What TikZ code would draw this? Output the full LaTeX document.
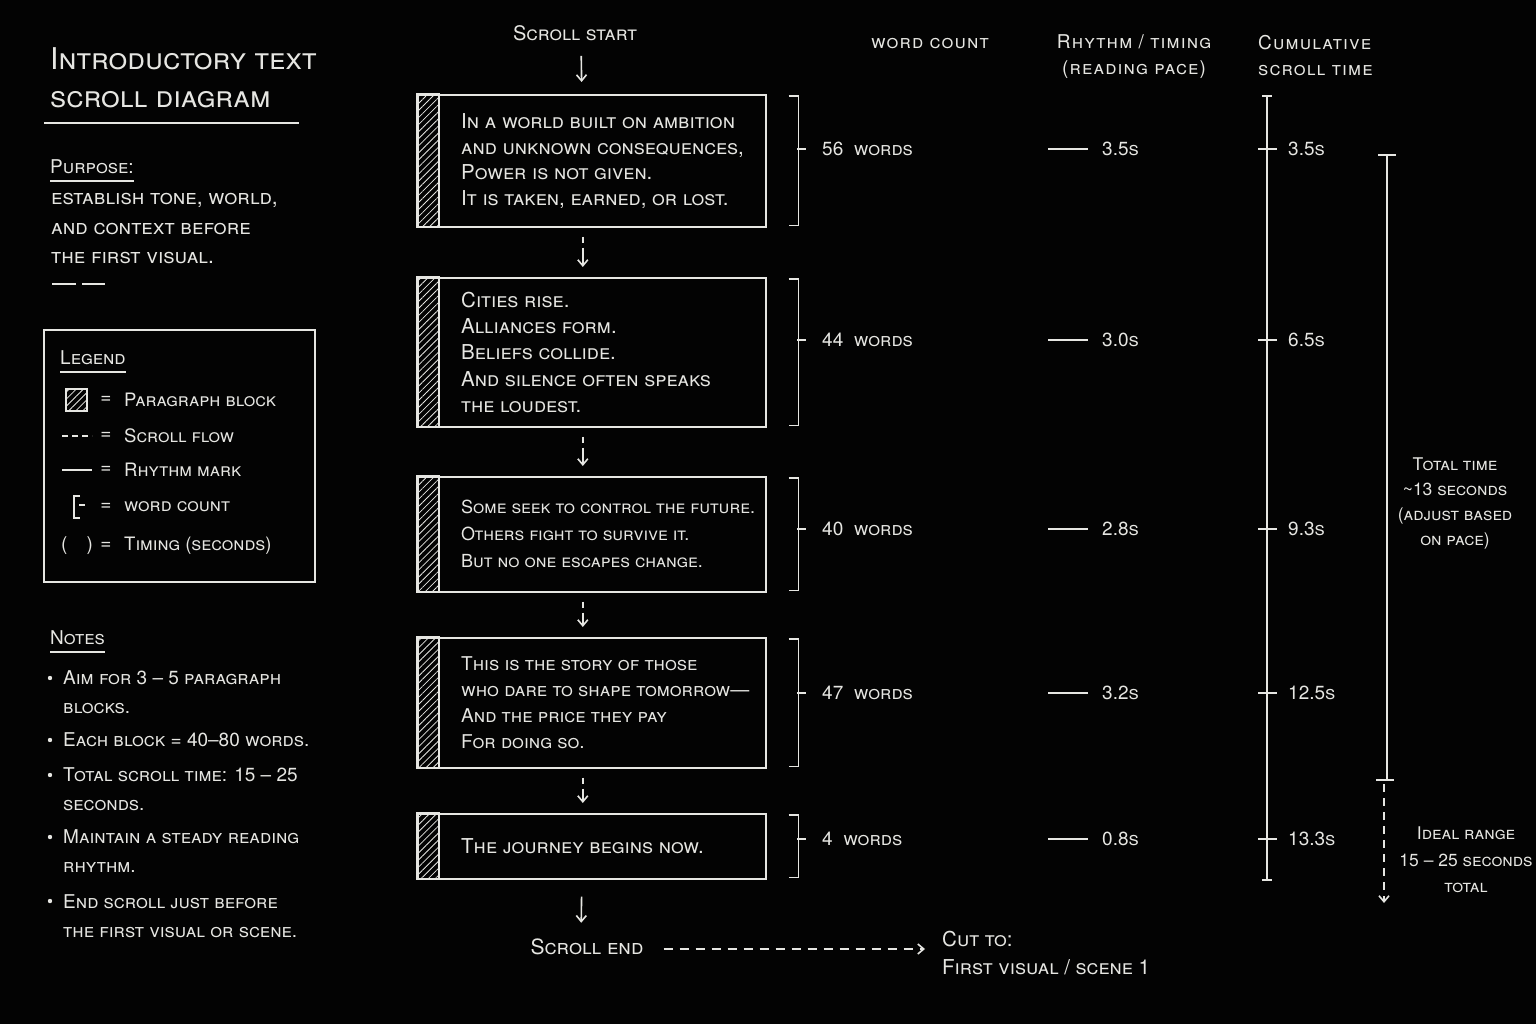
\documentclass[tikz,border=0pt]{standalone}
\usepackage{fontspec}
\setmainfont{TeX Gyre Heros}
\usetikzlibrary{arrows.meta,positioning,patterns.meta}
\definecolor{chalk}{HTML}{E6E6E2}
\definecolor{board}{HTML}{030303}

\begin{document}
\begin{tikzpicture}[
        x=1pt, y=-1pt,
        every node/.style={text=chalk, inner sep=0pt, font=\fontsize{19}{25.5}\selectfont\scshape},
        chalk line/.style={draw=chalk, line width=1.6pt},
        flow arrow/.style={chalk line, -{Straight Barb[length=6pt,width=10pt]}},
        flow dash/.style={flow arrow, dash pattern=on 6pt off 5pt on 60pt off 5pt},
        scroll link/.style={flow arrow, dash pattern=on 9pt off 7pt},
        block/.style={draw=chalk, line width=1.6pt, minimum width=348pt, anchor=north west},
        hatch/.style={chalk line, pattern={Lines[angle=45,distance=5pt,line width=0.8pt]}, pattern color=chalk},
        para/.style={align=left, anchor=west},
        loose/.style={font=\fontsize{21}{29.5}\selectfont\scshape},
        title/.style={font=\fontsize{30}{38}\selectfont\scshape, align=left, anchor=west},
        head/.style={font=\fontsize{19}{26}\selectfont\addfontfeatures{LetterSpace=6}\scshape}
    ]
        \fill[board] (0,0) rectangle (1536,1024);
        \useasboundingbox (0,0) rectangle (1536,1024);

        % left column: title, purpose
        \node[title] (title) at (50,78) {Introductory text\\scroll diagram};
        \draw[chalk line] (44,123) -- (299,123);
        \node[para] (purpose) at (50,167) {Purpose:};
        \draw[chalk line] ([yshift=-7pt]purpose.south west) -- ([yshift=-7pt]purpose.south east);
        \node[para, loose] (aim) at (51,229) {establish tone, world,\\and context before\\the first visual.};
        \draw[chalk line] (52,284) -- (76,284);
        \draw[chalk line] (82,284) -- (105,284);

        % legend
        \node[draw=chalk, line width=1.6pt, minimum width=271pt, minimum height=252pt, anchor=north west] (legend) at (43,329) {};
        \node[para] (lgtitle) at (60,358) {Legend};
        \draw[chalk line] ([yshift=-7pt]lgtitle.south west) -- ([yshift=-7pt]lgtitle.south east);
        \foreach \y/\t in {400/Paragraph block, 436/Scroll flow, 470/Rhythm mark, 507/word count, 546/Timing (seconds)} {
            \node (eq\y) at (106,\y) {=};
            \node[para, font=\fontsize{18.5}{25}\selectfont\scshape] (key\y) at (124,\y) {\t};
        }
        \draw[hatch] (66,389) rectangle (87,411);
        \draw[chalk line, dash pattern=on 6pt off 4pt] (62,436) -- (92,436);
        \draw[chalk line] (62,470) -- (92,470);
        \draw[chalk line] (80,496) -- (74,496) -- (74,518) -- (80,518);
        \draw[chalk line] (79,505) -- (85,505);
        \node (paren) at (77,546) {(\quad)};

        % notes
        \node[para] (notes) at (50,638) {Notes};
        \draw[chalk line] ([yshift=-7pt]notes.south west) -- ([yshift=-7pt]notes.south east);
        \foreach \y/\t in {692/{Aim for 3 -- 5 paragraph\\blocks.}, 740/{Each block = 40--80 words.}, 789/{Total scroll time: 15 -- 25\\seconds.}, 851/{Maintain a steady reading\\rhythm.}, 916/{End scroll just before\\the first visual or scene.}} {
            \node[para, font=\fontsize{19}{28.5}\selectfont\scshape] (note\y) at (63,\y) {\t};
        }
        \foreach \y in {678,740,775,837,901}
            \fill[chalk] (50,\y) circle (2.2pt);

        % scroll column
        \node[font=\fontsize{20}{25}\selectfont\scshape] (start) at (575,33) {Scroll start};
        \foreach \i/\top/\h in {1/94/132, 2/277/149, 3/476/115, 4/637/130, 5/813/65} {
            \node[block, minimum height=\h*1pt] (b\i) at (417,\top) {};
            \draw[hatch] (b\i.north west) rectangle ([xshift=22pt]b\i.south west);
        }
        \node[para, right=44pt of b1.west, font=\fontsize{20.5}{25.5}\selectfont\scshape] (t1) {In a world built on ambition\\and unknown consequences,\\Power is not given.\\It is taken, earned, or lost.};
        \node[para, right=44pt of b2.west, font=\fontsize{20.5}{26.2}\selectfont\scshape] (t2) {Cities rise.\\Alliances form.\\Beliefs collide.\\And silence often speaks\\the loudest.};
        \node[para, right=44pt of b3.west, font=\fontsize{18}{27}\selectfont\scshape] (t3) {Some seek to control the future.\\Others fight to survive it.\\But no one escapes change.};
        \node[para, right=44pt of b4.west, font=\fontsize{19}{26}\selectfont\scshape] (t4) {This is the story of those\\who dare to shape tomorrow---\\And the price they pay\\For doing so.};
        \node[para, right=44pt of b5.west, font=\fontsize{20.5}{25}\selectfont\scshape] (t5) {The journey begins now.};

        \draw[flow arrow, shorten <=15pt, shorten >=12pt] ([xshift=6pt]start.south) -- ([xshift=-10pt]b1.north);
        \foreach \a/\b in {b1/b2, b2/b3, b3/b4, b4/b5}
            \draw[flow dash, shorten <=9pt, shorten >=10pt] ([xshift=-9pt]\a.south) -- ([xshift=-9pt]\b.north);

        \node[font=\fontsize{21}{25}\selectfont\scshape] (end) at (587,947) {Scroll end};
        \node[para, font=\fontsize{20.5}{28}\selectfont\scshape] (cut) at (942,953) {Cut to:\\First visual / scene 1};
        \draw[flow arrow, shorten <=17pt, shorten >=16pt] ([xshift=-10pt]b5.south) -- ([xshift=-6pt]end.north);
        \draw[scroll link, shorten <=20pt, shorten >=17pt] ([yshift=-2pt]end.east) -- ([yshift=-2pt]end.east -| cut.west);

        % column heads
        \node[head] (hwords) at (930,44) {word count};
        \node[head, align=center] (hpace) at (1134,57) {Rhythm / timing\\(reading pace)};
        \node[head, align=left, anchor=west] (hcum) at (1258,56) {Cumulative\\scroll time};

        % word count, rhythm and running time per block
        \draw[chalk line] (1262,96) -- (1272,96);
        \draw[chalk line] (1267,96) -- (1267,880);
        \draw[chalk line] (1262,880) -- (1272,880);
        \foreach \i/\y/\n/\t/\c in {1/149/56/3.5/3.5, 2/340/44/3.0/6.5, 3/529/40/2.8/9.3, 4/693/47/3.2/12.5, 5/839/4/0.8/13.3} {
            \draw[chalk line] ([xshift=22pt,yshift=-2pt]b\i.north east) -| ([xshift=32pt,yshift=2pt]b\i.south east) -- ++(-10,0);
            \draw[chalk line] (797,\y) -- (806,\y);
            \node[para] (w\i) at (822,\y) {\n\ \ words};
            \node[para] (r\i) at (1102,\y) {\t s};
            \draw[chalk line] ([xshift=-14pt]r\i.west) -- ++(-40,0);
            \draw[chalk line] (1258,\y) -- (1277,\y);
            \node[para] (c\i) at (1288,\y) {\c s};
        }

        % total range
        \draw[chalk line] (1378,155) -- (1396,155);
        \draw[chalk line] (1387,155) -- (1387,780);
        \draw[chalk line] (1376,780) -- (1394,780);
        \draw[flow arrow, dash pattern=on 8pt off 6pt] (1384,784) -- (1384,903);
        \node[align=center, font=\fontsize{17.5}{25}\selectfont\scshape] (total) at (1455,503) {Total time\\\textasciitilde13 seconds\\(adjust based\\on pace)};
        \node[align=center, font=\fontsize{17.5}{26.5}\selectfont\scshape] (ideal) at (1466,860) {Ideal range\\15 -- 25 seconds\\total};
    \end{tikzpicture}
\end{document}
